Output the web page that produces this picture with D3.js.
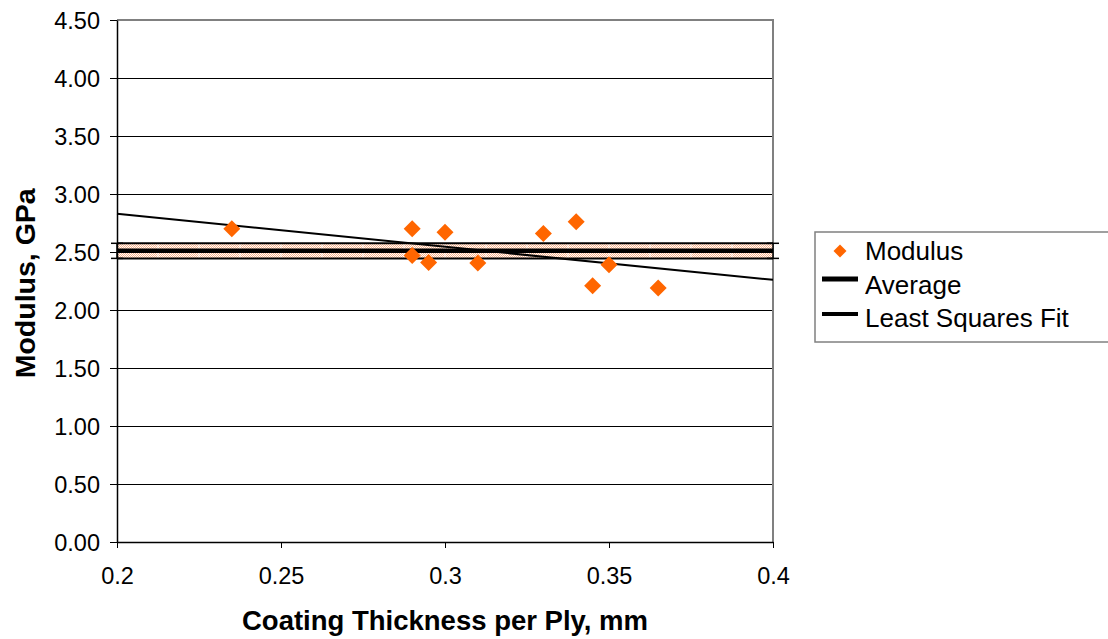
<!DOCTYPE html>
<html>
<head>
<meta charset="utf-8">
<script src="https://cdn.jsdelivr.net/npm/d3@7"></script>
<style>
  body { margin: 0; background: #fff; }
  text { font-family: "Liberation Sans", Arial, sans-serif; }
</style>
</head>
<body>
<script>
// measured points
const thickness = [0.235, 0.29, 0.29, 0.295, 0.30, 0.31, 0.33, 0.34, 0.345, 0.35, 0.365];
const modulus   = [2.70, 2.70, 2.47, 2.41, 2.67, 2.405, 2.66, 2.76, 2.21, 2.39, 2.19];
const avgValue = 2.51;
const avgSpread = 0.065;
const fitEnds = [[0.2, 2.83], [0.4, 2.26]];
const xTicks = [0.2, 0.25, 0.3, 0.35, 0.4];
const yTicks = [0, 0.5, 1, 1.5, 2, 2.5, 3, 3.5, 4, 4.5];
const legendNames = ["Modulus", "Average", "Least Squares Fit"];

const W = 1108, H = 639;
const m = {left: 117, right: 335, top: 20, bottom: 97};

const svg = d3.select("body").append("svg")
    .attr("width", W).attr("height", H);

const x = d3.scaleLinear().domain([0.2, 0.4]).range([m.left, W - m.right]);
const y = d3.scaleLinear().domain([0, 4.5]).range([H - m.bottom, m.top]);

// hatch for the average band
const pat = svg.append("defs").append("pattern")
    .attr("id", "hatch").attr("patternUnits", "userSpaceOnUse")
    .attr("width", 2).attr("height", 2);
pat.append("rect").attr("width", 2).attr("height", 2).attr("fill", "#fff");
pat.append("rect").attr("width", 1).attr("height", 1).attr("fill", "#f9b088");
pat.append("rect").attr("x", 1).attr("y", 1).attr("width", 1).attr("height", 1).attr("fill", "#f9b088");

// gridlines
svg.append("g").selectAll("line")
    .data(yTicks.filter(d => d > 0 && d < 4.5))
    .join("line")
    .attr("x1", x(0.2)).attr("x2", x(0.4))
    .attr("y1", d => y(d) + 0.5).attr("y2", d => y(d) + 0.5)
    .attr("stroke", "#000").attr("stroke-width", 1);

// border top & right
svg.append("path")
    .attr("d", `M${x(0.2)},${y(4.5)}H${x(0.4)}V${y(0)}`)
    .attr("fill", "none").attr("stroke", "#808080").attr("stroke-width", 2);

// average band
const band = svg.append("g");
band.append("rect")
    .attr("x", x(0.2)).attr("width", x(0.4) - x(0.2))
    .attr("y", y(avgValue + avgSpread))
    .attr("height", y(avgValue - avgSpread) - y(avgValue + avgSpread))
    .attr("fill", "url(#hatch)");
// faint breaks in the hatch
band.append("g").selectAll("line")
    .data(d3.range(1, 16).map(k => 0.2 + k * 0.0125))
    .join("line")
    .attr("x1", d => x(d)).attr("x2", d => x(d))
    .attr("y1", y(avgValue + avgSpread)).attr("y2", y(avgValue - avgSpread))
    .attr("stroke", "#fff").attr("stroke-width", 1).attr("opacity", 0.8);
[avgValue + avgSpread, avgValue - avgSpread].forEach(v => {
  band.append("line")
      .attr("x1", x(0.2)).attr("x2", x(0.4))
      .attr("y1", y(v)).attr("y2", y(v))
      .attr("stroke", "#000").attr("stroke-width", 2);
});
band.append("line")
    .attr("x1", x(0.2)).attr("x2", x(0.4))
    .attr("y1", y(avgValue)).attr("y2", y(avgValue))
    .attr("stroke", "#000").attr("stroke-width", 4.5);
// error bars at the ends
[0.2, 0.4].forEach(xv => {
  const g = band.append("g").attr("stroke", "#000").attr("stroke-width", 1.5);
  g.append("line").attr("x1", x(xv)).attr("x2", x(xv))
      .attr("y1", y(avgValue + avgSpread)).attr("y2", y(avgValue - avgSpread));
  [avgValue + avgSpread, avgValue - avgSpread].forEach(v => {
    g.append("line").attr("x1", x(xv) - 6).attr("x2", x(xv) + 6)
        .attr("y1", y(v)).attr("y2", y(v));
  });
});

// least squares line
svg.append("line")
    .attr("x1", x(fitEnds[0][0])).attr("y1", y(fitEnds[0][1]))
    .attr("x2", x(fitEnds[1][0])).attr("y2", y(fitEnds[1][1]))
    .attr("stroke", "#000").attr("stroke-width", 2);

// points
const diamond = "M0,-8.5L8.5,0L0,8.5L-8.5,0Z";
svg.append("g").selectAll("path")
    .data(thickness.map((t, i) => [t, modulus[i]]))
    .join("path")
    .attr("d", diamond)
    .attr("transform", d => `translate(${x(d[0])},${y(d[1])})`)
    .attr("fill", "#ff6600");

// axes
const yAxis = svg.append("g")
    .attr("transform", `translate(${x(0.2)},0)`)
    .call(d3.axisLeft(y).tickValues(yTicks).tickFormat(d3.format(".2f")).tickSize(7).tickSizeOuter(0));
const xAxis = svg.append("g")
    .attr("transform", `translate(0,${y(0)})`)
    .call(d3.axisBottom(x).tickValues(xTicks).tickFormat(d => String(d)).tickSize(6).tickSizeOuter(0));
[yAxis, xAxis].forEach(a => {
  a.select(".domain").attr("stroke", "#000").attr("stroke-width", 1.5);
  a.selectAll(".tick line").attr("stroke", "#000");
  a.selectAll(".tick text").attr("font-size", 23.5).attr("fill", "#000");
});
yAxis.selectAll(".tick text").attr("x", -17).attr("dy", "0.35em");
xAxis.selectAll(".tick text").attr("y", 42).attr("dy", "0");

// titles
svg.append("text")
    .attr("x", x(0.3)).attr("y", 630)
    .attr("text-anchor", "middle").attr("font-size", 27.5).attr("font-weight", "bold")
    .text("Coating Thickness per Ply, mm");
svg.append("text")
    .attr("transform", `translate(35,${y(2.23)}) rotate(-90)`)
    .attr("text-anchor", "middle").attr("font-size", 28.5).attr("font-weight", "bold")
    .text("Modulus, GPa");

// legend
const lg = svg.append("g").attr("transform", "translate(815,232)");
lg.append("rect").attr("x", 0).attr("y", 0).attr("width", 300).attr("height", 110)
    .attr("fill", "#fff").attr("stroke", "#808080").attr("stroke-width", 1.5);
lg.append("path").attr("d", "M0,-6.5L6.5,0L0,6.5L-6.5,0Z")
    .attr("transform", "translate(25,19)").attr("fill", "#ff6600");
lg.append("line").attr("x1", 7).attr("x2", 43).attr("y1", 47).attr("y2", 47)
    .attr("stroke", "#000").attr("stroke-width", 5);
lg.append("line").attr("x1", 7).attr("x2", 43).attr("y1", 82).attr("y2", 82)
    .attr("stroke", "#000").attr("stroke-width", 4);
lg.selectAll("text.lt").data(legendNames).join("text")
    .attr("class", "lt")
    .attr("x", 50).attr("y", (d, i) => 28 + i * 33.5)
    .attr("font-size", 26)
    .text(d => d);
</script>
</body>
</html>
